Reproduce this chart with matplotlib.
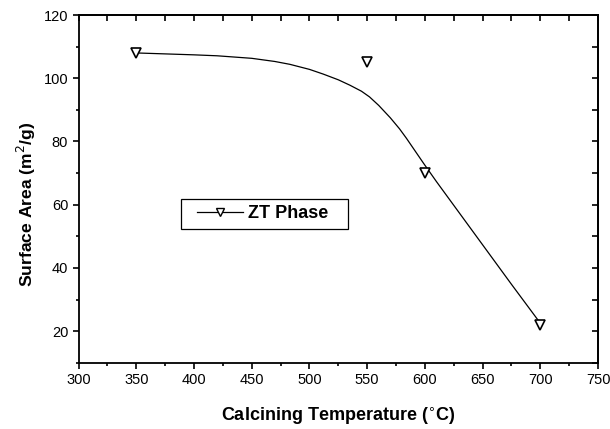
import matplotlib
matplotlib.use("Agg")
import matplotlib.pyplot as plt
from matplotlib.ticker import MultipleLocator
from matplotlib.patches import Rectangle

plt.rcParams['font.family'] = ['Liberation Sans', 'DejaVu Sans']

# measured data
temps = [350, 550, 600, 700]
areas = [108, 105, 70, 22]

# fitted curve
fit_x = [350, 400, 420, 450, 470, 483, 500, 512, 525, 535, 545, 552, 560, 570, 578, 584, 590, 599, 610, 625, 650, 675, 700]
fit_y = [108, 107.4, 107.1, 106.3, 105.3, 104.4, 102.8, 101.3, 99.5, 97.8, 95.9, 94.1, 91.4, 87.5, 84.0, 81.0, 77.8, 73.0, 67.3, 59.8, 47.3, 34.8, 22.5]

series_label = "ZT Phase"
x_label = "Calcining Temperature ($^{\\circ}$C)"
y_label = "Surface Area (m$^{2}$/g)"

fig = plt.figure(figsize=(6.10, 4.29), dpi=100)
ax = fig.add_axes([0.1289, 0.1545, 0.8515, 0.8105])

ax.plot(fit_x, fit_y, color='black', lw=0.9, zorder=2, solid_joinstyle='round')
ax.plot(temps, areas, linestyle='none', marker='v', markersize=6.5,
        markerfacecolor='white', markeredgecolor='black', markeredgewidth=1.2, zorder=3)
# legend handle
ax.plot([], [], color='black', lw=0.9, marker='v', markersize=5.5,
        markerfacecolor='white', markeredgecolor='black', markeredgewidth=1.0,
        label=series_label)

ax.set_xlim(300, 750)
ax.set_ylim(10, 120)
ax.xaxis.set_major_locator(MultipleLocator(50))
ax.xaxis.set_minor_locator(MultipleLocator(25))
ax.yaxis.set_minor_locator(MultipleLocator(10))
ax.set_yticks([20, 40, 60, 80, 100, 120])

ax.tick_params(which='major', direction='out', length=4.5, width=1.2, labelsize=10.5, pad=3)
ax.tick_params(which='minor', direction='out', length=2.5, width=1.2)

for s in ax.spines.values():
    s.set_linewidth(1.3)

sx = ax.secondary_xaxis('top')
sx.xaxis.set_major_locator(MultipleLocator(50))
sx.xaxis.set_minor_locator(MultipleLocator(25))
sx.tick_params(which='both', direction='in', length=4, width=1.2, labeltop=False)
sx.spines['top'].set_linewidth(1.3)
sy = ax.secondary_yaxis('right')
sy.yaxis.set_major_locator(MultipleLocator(20))
sy.yaxis.set_minor_locator(MultipleLocator(10))
sy.tick_params(which='both', direction='in', length=4, width=1.2, labelright=False)
sy.spines['right'].set_linewidth(1.3)

ax.set_xlabel(x_label, fontsize=13, fontweight='bold')
ax.xaxis.set_label_coords(0.5, -0.125)
ax.set_ylabel(y_label, fontsize=12.6, fontweight='bold')
ax.yaxis.set_label_coords(-0.078, 0.456)

# legend frame drawn as a plain box, legend entry placed inside it
ax.add_patch(Rectangle((0.1966, 0.3845), 0.3214, 0.0855, transform=ax.transAxes,
                       facecolor='white', edgecolor='black', lw=0.9, zorder=4))
leg = ax.legend(loc='center left', bbox_to_anchor=(0.228, 0.428), frameon=False,
                borderpad=0, borderaxespad=0, handlelength=2.55,
                handletextpad=0.28, prop={'weight': 'bold', 'size': 13})
leg.set_zorder(5)

fig.savefig('out.png', dpi=100)
